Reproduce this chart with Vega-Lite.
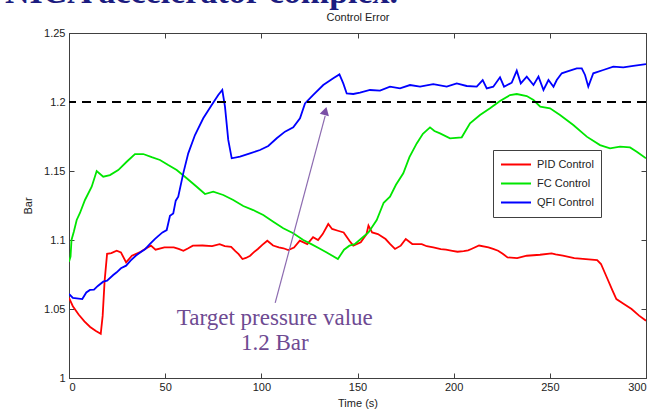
{
  "$schema": "https://vega.github.io/schema/vega-lite/v6.json",
  "width": 577,
  "height": 345,
  "autosize": {"type": "none"},
  "padding": {"left": 69, "top": 33, "right": 11, "bottom": 34},
  "background": "white",
  "title": {
    "text": "NICA accelerator complex.",
    "anchor": "start",
    "frame": "group",
    "font": "Liberation Serif",
    "fontSize": 34,
    "fontWeight": "bold",
    "color": "#1c1c80",
    "dx": -64,
    "dy": -1.5,
    "offset": 0
  },
  "resolve": {"axis": {"x": "independent", "y": "independent"}},
  "config": {
    "view": {"stroke": "#404040", "strokeWidth": 1},
    "axis": {
      "labelFont": "Liberation Sans",
      "labelFontSize": 11,
      "labelColor": "#222",
      "titleFont": "Liberation Sans",
      "titleFontSize": 11,
      "titleFontWeight": "normal",
      "titleColor": "#222",
      "domainColor": "#404040",
      "tickColor": "#404040",
      "tickSize": -5,
      "grid": false
    }
  },
  "datasets": {
    "series": [
      {"s":"PID Control","t":0,"v":1.058},{"s":"PID Control","t":2,"v":1.052},{"s":"PID Control","t":5,"v":1.046},{"s":"PID Control","t":8,"v":1.041},{"s":"PID Control","t":11,"v":1.037},{"s":"PID Control","t":14,"v":1.034},{"s":"PID Control","t":16.5,"v":1.032},{"s":"PID Control","t":17.5,"v":1.045},{"s":"PID Control","t":18.5,"v":1.07},{"s":"PID Control","t":19.8,"v":1.09},{"s":"PID Control","t":22,"v":1.0905},{"s":"PID Control","t":24.8,"v":1.0923},{"s":"PID Control","t":27,"v":1.091},{"s":"PID Control","t":29.7,"v":1.0838},{"s":"PID Control","t":32.7,"v":1.0886},{"s":"PID Control","t":36.7,"v":1.091},{"s":"PID Control","t":39.5,"v":1.0935},{"s":"PID Control","t":42.6,"v":1.0959},{"s":"PID Control","t":45,"v":1.093},{"s":"PID Control","t":49.6,"v":1.0947},{"s":"PID Control","t":54.5,"v":1.0947},{"s":"PID Control","t":57,"v":1.0935},{"s":"PID Control","t":59.5,"v":1.0922},{"s":"PID Control","t":62,"v":1.094},{"s":"PID Control","t":64.4,"v":1.0959},{"s":"PID Control","t":69.4,"v":1.096},{"s":"PID Control","t":74.4,"v":1.0955},{"s":"PID Control","t":78.3,"v":1.097},{"s":"PID Control","t":81,"v":1.0955},{"s":"PID Control","t":84.3,"v":1.095},{"s":"PID Control","t":86.5,"v":1.092},{"s":"PID Control","t":88.2,"v":1.0898},{"s":"PID Control","t":90.2,"v":1.0862},{"s":"PID Control","t":92,"v":1.087},{"s":"PID Control","t":94.2,"v":1.0886},{"s":"PID Control","t":96,"v":1.091},{"s":"PID Control","t":98.2,"v":1.0935},{"s":"PID Control","t":100.5,"v":1.0965},{"s":"PID Control","t":103.1,"v":1.0995},{"s":"PID Control","t":106.1,"v":1.096},{"s":"PID Control","t":109.1,"v":1.0947},{"s":"PID Control","t":111.5,"v":1.094},{"s":"PID Control","t":114,"v":1.0927},{"s":"PID Control","t":117,"v":1.0945},{"s":"PID Control","t":120,"v":1.0995},{"s":"PID Control","t":123.9,"v":1.097},{"s":"PID Control","t":126.9,"v":1.102},{"s":"PID Control","t":129.5,"v":1.1},{"s":"PID Control","t":131.9,"v":1.1043},{"s":"PID Control","t":134.8,"v":1.1116},{"s":"PID Control","t":136.8,"v":1.108},{"s":"PID Control","t":139.8,"v":1.1067},{"s":"PID Control","t":142.8,"v":1.1055},{"s":"PID Control","t":145.8,"v":1.0995},{"s":"PID Control","t":147.8,"v":1.0959},{"s":"PID Control","t":151.7,"v":1.0983},{"s":"PID Control","t":154.7,"v":1.1043},{"s":"PID Control","t":155.7,"v":1.1104},{"s":"PID Control","t":157.6,"v":1.1055},{"s":"PID Control","t":160.6,"v":1.1043},{"s":"PID Control","t":164.6,"v":1.1007},{"s":"PID Control","t":167,"v":1.097},{"s":"PID Control","t":169.5,"v":1.0935},{"s":"PID Control","t":172.5,"v":1.0959},{"s":"PID Control","t":175.1,"v":1.1007},{"s":"PID Control","t":178.5,"v":1.0971},{"s":"PID Control","t":183.4,"v":1.097},{"s":"PID Control","t":186,"v":1.0955},{"s":"PID Control","t":189.4,"v":1.0947},{"s":"PID Control","t":193.3,"v":1.0934},{"s":"PID Control","t":196,"v":1.093},{"s":"PID Control","t":199.3,"v":1.0922},{"s":"PID Control","t":202,"v":1.0915},{"s":"PID Control","t":205.2,"v":1.092},{"s":"PID Control","t":207.5,"v":1.0925},{"s":"PID Control","t":209.2,"v":1.0935},{"s":"PID Control","t":213.2,"v":1.096},{"s":"PID Control","t":218.1,"v":1.0947},{"s":"PID Control","t":220.5,"v":1.0935},{"s":"PID Control","t":223.1,"v":1.0922},{"s":"PID Control","t":225.5,"v":1.09},{"s":"PID Control","t":228,"v":1.0874},{"s":"PID Control","t":233,"v":1.0869},{"s":"PID Control","t":238,"v":1.0886},{"s":"PID Control","t":244.9,"v":1.0893},{"s":"PID Control","t":250.9,"v":1.0903},{"s":"PID Control","t":253,"v":1.0895},{"s":"PID Control","t":256.8,"v":1.0886},{"s":"PID Control","t":262.7,"v":1.0869},{"s":"PID Control","t":268.7,"v":1.0862},{"s":"PID Control","t":274.6,"v":1.0855},{"s":"PID Control","t":276.6,"v":1.0826},{"s":"PID Control","t":279.6,"v":1.073},{"s":"PID Control","t":282.6,"v":1.0633},{"s":"PID Control","t":284.6,"v":1.0572},{"s":"PID Control","t":288.5,"v":1.0536},{"s":"PID Control","t":292.5,"v":1.05},{"s":"PID Control","t":296.4,"v":1.0452},{"s":"PID Control","t":300,"v":1.0415},
      {"s":"FC Control","t":0,"v":1.0843},{"s":"FC Control","t":0.8,"v":1.088},{"s":"FC Control","t":1.3,"v":1.1},{"s":"FC Control","t":2.5,"v":1.106},{"s":"FC Control","t":4,"v":1.1145},{"s":"FC Control","t":5.7,"v":1.1196},{"s":"FC Control","t":8.3,"v":1.129},{"s":"FC Control","t":11.8,"v":1.1386},{"s":"FC Control","t":14.4,"v":1.15},{"s":"FC Control","t":17.8,"v":1.1459},{"s":"FC Control","t":21.3,"v":1.147},{"s":"FC Control","t":25.6,"v":1.1507},{"s":"FC Control","t":30,"v":1.1567},{"s":"FC Control","t":34.3,"v":1.1623},{"s":"FC Control","t":38.6,"v":1.1623},{"s":"FC Control","t":43,"v":1.16},{"s":"FC Control","t":47.3,"v":1.158},{"s":"FC Control","t":51.6,"v":1.1543},{"s":"FC Control","t":56,"v":1.1507},{"s":"FC Control","t":61.2,"v":1.1447},{"s":"FC Control","t":66.4,"v":1.1386},{"s":"FC Control","t":70.7,"v":1.1333},{"s":"FC Control","t":75,"v":1.135},{"s":"FC Control","t":80.2,"v":1.1326},{"s":"FC Control","t":85.4,"v":1.129},{"s":"FC Control","t":90.6,"v":1.1246},{"s":"FC Control","t":95.8,"v":1.1217},{"s":"FC Control","t":101,"v":1.1181},{"s":"FC Control","t":106.2,"v":1.1133},{"s":"FC Control","t":111.4,"v":1.1085},{"s":"FC Control","t":116.6,"v":1.1049},{"s":"FC Control","t":121.8,"v":1.1},{"s":"FC Control","t":126,"v":1.097},{"s":"FC Control","t":130,"v":1.094},{"s":"FC Control","t":134,"v":1.091},{"s":"FC Control","t":139.8,"v":1.0862},{"s":"FC Control","t":143,"v":1.093},{"s":"FC Control","t":145.8,"v":1.0959},{"s":"FC Control","t":148.5,"v":1.097},{"s":"FC Control","t":151.7,"v":1.1007},{"s":"FC Control","t":155.7,"v":1.1055},{"s":"FC Control","t":160,"v":1.1145},{"s":"FC Control","t":163.6,"v":1.127},{"s":"FC Control","t":166.9,"v":1.1314},{"s":"FC Control","t":170,"v":1.14},{"s":"FC Control","t":173.8,"v":1.1483},{"s":"FC Control","t":177,"v":1.16},{"s":"FC Control","t":180.8,"v":1.17},{"s":"FC Control","t":184,"v":1.177},{"s":"FC Control","t":187.7,"v":1.1816},{"s":"FC Control","t":190,"v":1.179},{"s":"FC Control","t":192.9,"v":1.1773},{"s":"FC Control","t":198.1,"v":1.1737},{"s":"FC Control","t":204.2,"v":1.1744},{"s":"FC Control","t":208.5,"v":1.1846},{"s":"FC Control","t":213.7,"v":1.1906},{"s":"FC Control","t":218.9,"v":1.1954},{"s":"FC Control","t":224.1,"v":1.2007},{"s":"FC Control","t":229.3,"v":1.205},{"s":"FC Control","t":232.8,"v":1.2058},{"s":"FC Control","t":238,"v":1.2043},{"s":"FC Control","t":241.5,"v":1.2014},{"s":"FC Control","t":245,"v":1.1966},{"s":"FC Control","t":250.1,"v":1.1954},{"s":"FC Control","t":255.3,"v":1.1906},{"s":"FC Control","t":262.2,"v":1.1833},{"s":"FC Control","t":269.2,"v":1.1749},{"s":"FC Control","t":276.1,"v":1.1688},{"s":"FC Control","t":281.3,"v":1.1664},{"s":"FC Control","t":286.5,"v":1.1676},{"s":"FC Control","t":291.7,"v":1.1671},{"s":"FC Control","t":295.2,"v":1.164},{"s":"FC Control","t":300,"v":1.1592},
      {"s":"QFI Control","t":0,"v":1.0609},{"s":"QFI Control","t":2,"v":1.058},{"s":"QFI Control","t":4,"v":1.0577},{"s":"QFI Control","t":6.9,"v":1.0572},{"s":"QFI Control","t":9,"v":1.062},{"s":"QFI Control","t":10.9,"v":1.0638},{"s":"QFI Control","t":13,"v":1.064},{"s":"QFI Control","t":15,"v":1.0667},{"s":"QFI Control","t":17.8,"v":1.0698},{"s":"QFI Control","t":19.8,"v":1.0705},{"s":"QFI Control","t":23,"v":1.0746},{"s":"QFI Control","t":24.8,"v":1.0766},{"s":"QFI Control","t":27,"v":1.0795},{"s":"QFI Control","t":29.7,"v":1.0814},{"s":"QFI Control","t":32,"v":1.085},{"s":"QFI Control","t":34.7,"v":1.0886},{"s":"QFI Control","t":37,"v":1.091},{"s":"QFI Control","t":39.7,"v":1.0935},{"s":"QFI Control","t":42,"v":1.097},{"s":"QFI Control","t":44.6,"v":1.1007},{"s":"QFI Control","t":46.5,"v":1.103},{"s":"QFI Control","t":48.6,"v":1.1055},{"s":"QFI Control","t":50.8,"v":1.1072},{"s":"QFI Control","t":52.5,"v":1.1176},{"s":"QFI Control","t":54.2,"v":1.1193},{"s":"QFI Control","t":55.5,"v":1.1285},{"s":"QFI Control","t":56.8,"v":1.1314},{"s":"QFI Control","t":59.4,"v":1.1483},{"s":"QFI Control","t":62,"v":1.1628},{"s":"QFI Control","t":65.5,"v":1.1761},{"s":"QFI Control","t":69.8,"v":1.1882},{"s":"QFI Control","t":74.2,"v":1.1978},{"s":"QFI Control","t":77.6,"v":1.2051},{"s":"QFI Control","t":79.7,"v":1.2087},{"s":"QFI Control","t":81.1,"v":1.1966},{"s":"QFI Control","t":82.8,"v":1.1725},{"s":"QFI Control","t":84.6,"v":1.1592},{"s":"QFI Control","t":88.9,"v":1.1604},{"s":"QFI Control","t":94.1,"v":1.1628},{"s":"QFI Control","t":99.3,"v":1.1652},{"s":"QFI Control","t":103.6,"v":1.1681},{"s":"QFI Control","t":108,"v":1.1737},{"s":"QFI Control","t":112.3,"v":1.1785},{"s":"QFI Control","t":116.6,"v":1.1816},{"s":"QFI Control","t":120.1,"v":1.1882},{"s":"QFI Control","t":122.7,"v":1.199},{"s":"QFI Control","t":127,"v":1.2051},{"s":"QFI Control","t":132.2,"v":1.2123},{"s":"QFI Control","t":137.4,"v":1.2172},{"s":"QFI Control","t":140.6,"v":1.22},{"s":"QFI Control","t":142.6,"v":1.2135},{"s":"QFI Control","t":144.4,"v":1.2062},{"s":"QFI Control","t":147.8,"v":1.2058},{"s":"QFI Control","t":151.3,"v":1.2068},{"s":"QFI Control","t":156.5,"v":1.2087},{"s":"QFI Control","t":161.7,"v":1.2082},{"s":"QFI Control","t":166.9,"v":1.2111},{"s":"QFI Control","t":172.1,"v":1.2099},{"s":"QFI Control","t":177.3,"v":1.2123},{"s":"QFI Control","t":182.5,"v":1.2111},{"s":"QFI Control","t":189.4,"v":1.213},{"s":"QFI Control","t":196.4,"v":1.2111},{"s":"QFI Control","t":201.6,"v":1.2135},{"s":"QFI Control","t":206.8,"v":1.2116},{"s":"QFI Control","t":212,"v":1.2111},{"s":"QFI Control","t":215.1,"v":1.2159},{"s":"QFI Control","t":217.2,"v":1.2099},{"s":"QFI Control","t":220.6,"v":1.2111},{"s":"QFI Control","t":224.1,"v":1.2179},{"s":"QFI Control","t":226.2,"v":1.2111},{"s":"QFI Control","t":230.2,"v":1.214},{"s":"QFI Control","t":232.8,"v":1.2227},{"s":"QFI Control","t":234.9,"v":1.2135},{"s":"QFI Control","t":238,"v":1.2184},{"s":"QFI Control","t":241.5,"v":1.2123},{"s":"QFI Control","t":244.1,"v":1.2184},{"s":"QFI Control","t":246.7,"v":1.2087},{"s":"QFI Control","t":249.3,"v":1.2159},{"s":"QFI Control","t":251.9,"v":1.2111},{"s":"QFI Control","t":253.6,"v":1.2159},{"s":"QFI Control","t":256.2,"v":1.2208},{"s":"QFI Control","t":258.8,"v":1.222},{"s":"QFI Control","t":264,"v":1.2244},{"s":"QFI Control","t":266.6,"v":1.2244},{"s":"QFI Control","t":268.3,"v":1.2196},{"s":"QFI Control","t":270,"v":1.2111},{"s":"QFI Control","t":272.6,"v":1.2208},{"s":"QFI Control","t":277.8,"v":1.2232},{"s":"QFI Control","t":283,"v":1.2256},{"s":"QFI Control","t":288.2,"v":1.2251},{"s":"QFI Control","t":293.4,"v":1.2261},{"s":"QFI Control","t":300,"v":1.2275}
    ],
    "target": [{"v": 1.2}],
    "arrow": [{"t": 107.2, "v": 1.0545, "t2": 133.2, "v2": 1.19}],
    "head": [{"t": 133.3, "v": 1.1935}],
    "notes": [
      {"t": 107, "v": 1.0384, "label": "Target pressure value"},
      {"t": 107, "v": 1.0203, "label": "1.2 Bar"}
    ]
  },
  "layer": [
    {
      "data": {"name": "series"},
      "mark": {"type": "line", "strokeWidth": 1.8, "clip": true},
      "encoding": {
        "x": {
          "field": "t", "type": "quantitative",
          "scale": {"domain": [0, 300], "nice": false},
          "axis": {"title": "Time (s)", "values": [0,50,100,150,200,250,300], "labelPadding": 8, "titlePadding": 5}
        },
        "y": {
          "field": "v", "type": "quantitative",
          "scale": {"domain": [1, 1.25], "nice": false, "zero": false},
          "axis": {"title": "Bar", "values": [1,1.05,1.1,1.15,1.2,1.25], "format": ".2~f", "labelPadding": 9, "titlePadding": 10}
        },
        "color": {
          "field": "s", "type": "nominal",
          "scale": {"domain": ["PID Control","FC Control","QFI Control"], "range": ["#ff0000","#00e600","#0000ff"]},
          "legend": {
            "orient": "none", "legendX": 424, "legendY": 117, "title": null,
            "symbolType": "stroke", "symbolStrokeWidth": 2, "symbolSize": 900,
            "labelFont": "Liberation Sans", "labelFontSize": 11, "labelColor": "#222",
            "fillColor": "white", "strokeColor": "#404040", "padding": 7,
            "rowPadding": 4, "clipHeight": 15, "labelOffset": 5
          }
        }
      }
    },
    {
      "data": {"name": "target"},
      "mark": {"type": "rule", "color": "black", "strokeWidth": 2.2, "strokeDash": [9, 6]},
      "encoding": {"y": {"field": "v", "type": "quantitative", "axis": null}}
    },
    {
      "data": {"name": "arrow"},
      "mark": {"type": "rule", "color": "#8c6bb0", "strokeWidth": 1.2},
      "encoding": {
        "x": {"field": "t", "type": "quantitative", "axis": {"orient": "top", "labels": false, "title": "Control Error", "values": [0,50,100,150,200,250,300], "titlePadding": 10}},
        "y": {"field": "v", "type": "quantitative", "axis": {"orient": "right", "labels": false, "title": null, "values": [1,1.05,1.1,1.15,1.2,1.25]}},
        "x2": {"field": "t2"},
        "y2": {"field": "v2"}
      }
    },
    {
      "data": {"name": "head"},
      "mark": {"type": "point", "shape": "triangle-up", "filled": true, "color": "#7a4fa6", "size": 90, "angle": 15, "opacity": 1},
      "encoding": {
        "x": {"field": "t", "type": "quantitative", "axis": null},
        "y": {"field": "v", "type": "quantitative", "axis": null}
      }
    },
    {
      "data": {"name": "notes"},
      "mark": {"type": "text", "font": "Liberation Serif", "fontSize": 23, "color": "#6e4a92", "align": "center", "baseline": "alphabetic"},
      "encoding": {
        "x": {"field": "t", "type": "quantitative", "axis": null},
        "y": {"field": "v", "type": "quantitative", "axis": null},
        "text": {"field": "label"}
      }
    }
  ]
}
